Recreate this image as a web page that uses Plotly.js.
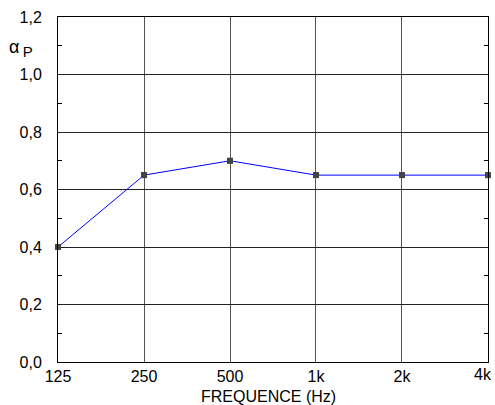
<!DOCTYPE html>
<html><head><meta charset="utf-8">
<script src="https://cdn.plot.ly/plotly-3.0.1.min.js"></script>
<style>html,body{margin:0;padding:0;background:#fff}#c{width:495px;height:405px}</style>
</head><body><div id="c"></div>
<script>
const frequencies = [125, 250, 500, 1000, 2000, 4000];
const tickLabels = ["125", "250", "500", "1k", "2k", "4k"];
const alphaP = [0.40, 0.65, 0.70, 0.65, 0.65, 0.65];
const alphaErr = [0.008, 0.008, 0.008, 0.008, 0.008, 0.008];

const trace = {
  x: frequencies, y: alphaP, type: 'scatter', mode: 'lines+markers',
  line: {color: '#0000ff', width: 1},
  marker: {symbol: 'square', size: 6, color: '#444'},
  error_y: {type: 'data', array: alphaErr, visible: true, color: '#333', thickness: 1, width: 3},
  cliponaxis: false, hoverinfo: 'skip'
};
const lastIdx = frequencies.length - 1;
const layout = {
  width: 495, height: 405,
  margin: {l: 58, r: 7, t: 17, b: 43},
  paper_bgcolor: '#fff', plot_bgcolor: '#fff',
  separators: ', ',
  showlegend: false,
  font: {family: 'Liberation Sans, Arial, sans-serif', size: 16, color: '#000'},
  xaxis: {
    type: 'log', range: [Math.log10(125) - 1e-4, Math.log10(4000) + 1e-4],
    tickvals: frequencies,
    ticktext: tickLabels.map((t, i) => i === lastIdx ? '' : t),
    showgrid: true, gridcolor: '#555', gridwidth: 1,
    showline: true, linecolor: '#000', linewidth: 1, mirror: true,
    ticks: '', zeroline: false, automargin: false,
    tickfont: {size: 16}
  },
  yaxis: {
    range: [0, 1.2], dtick: 0.2, tickformat: '.1f',
    showgrid: true, gridcolor: '#222', gridwidth: 1,
    showline: true, linecolor: '#000', linewidth: 1, mirror: 'allticks',
    ticks: 'inside', ticklen: 0, zeroline: false, automargin: false,
    minor: {dtick: 0.1, ticks: 'inside', ticklen: 4, tickcolor: '#000', showgrid: false},
    tickfont: {size: 16}, ticklabelstandoff: 12
  },
  annotations: [{
    xref: 'paper', yref: 'paper', x: -0.118, y: 0.91, xanchor: 'left', yanchor: 'middle',
    text: 'α<span style="font-size:12px"> </span><sub><span style="font-size:15px">P</span></sub>',
    showarrow: false, font: {size: 18}
  }, {
    xref: 'paper', yref: 'paper', x: 0.49, y: -0.101, xanchor: 'center', yanchor: 'middle',
    text: 'FREQUENCE (Hz)', showarrow: false, font: {size: 16}
  }, {
    xref: 'x', yref: 'paper', x: Math.log10(frequencies[lastIdx]), y: 0, xanchor: 'right', yanchor: 'top',
    xshift: 6, yshift: -2,
    text: tickLabels[lastIdx], showarrow: false, font: {size: 16}
  }]
};
Plotly.newPlot('c', [trace], layout, {staticPlot: true, displayModeBar: false});
</script></body></html>
